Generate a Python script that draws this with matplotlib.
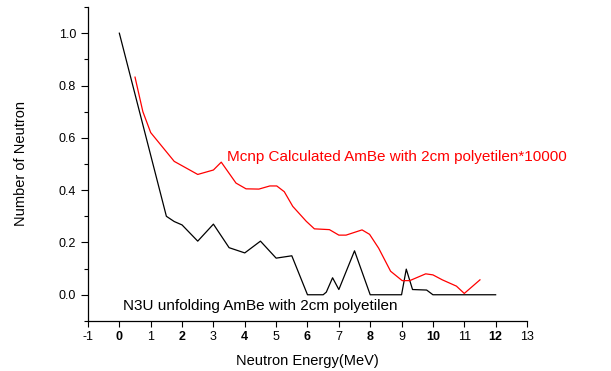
import matplotlib
matplotlib.use('Agg')
import matplotlib.pyplot as plt
from matplotlib.ticker import MultipleLocator

plt.rcParams['font.family'] = ['Liberation Sans', 'DejaVu Sans']

# N3U unfolding spectrum (black)
n3u_x = [0, 1.5, 1.75, 2.0, 2.5, 3.0, 3.5, 4.0, 4.5, 5.0, 5.5, 6.0, 6.5, 6.6, 6.8,
         7.0, 7.5, 8.0, 9.0, 9.15, 9.35, 9.8, 10.0, 12.0]
n3u_y = [1.0, 0.30, 0.28, 0.267, 0.205, 0.27, 0.18, 0.16, 0.205, 0.14, 0.149, 0.0, 0.0, 0.01, 0.065,
         0.02, 0.168, 0.0, 0.0, 0.098, 0.02, 0.018, 0.0, 0.0]

# Mcnp calculated spectrum (red, scaled *10000)
mcnp_x = [0.5, 0.75, 1.0, 1.75, 2.5, 3.0, 3.25, 3.72, 4.04, 4.45, 4.8, 5.02, 5.26, 5.53,
          5.96, 6.22, 6.7, 7.0, 7.23, 7.74, 7.98, 8.27, 8.65, 9.02, 9.26, 9.77, 10.0, 10.3,
          10.75, 11.0, 11.5]
mcnp_y = [0.832, 0.70, 0.62, 0.51, 0.46, 0.477, 0.507, 0.427, 0.405, 0.404, 0.416, 0.416, 0.394, 0.338,
          0.281, 0.252, 0.249, 0.228, 0.228, 0.248, 0.231, 0.178, 0.09, 0.054, 0.054, 0.08, 0.076, 0.057,
          0.033, 0.005, 0.057]

x_ticks = list(range(-1, 14))

fig = plt.figure(figsize=(6.11, 3.71), dpi=100)
ax = fig.add_axes([0.144, 0.135, 0.7185, 0.846])

ax.plot(n3u_x, n3u_y, color='black', lw=0.9)
ax.plot(mcnp_x, mcnp_y, color='#ff0000', lw=0.9)

ax.text(3.44, 0.526, 'Mcnp Calculated AmBe with 2cm polyetilen*10000',
        color='#ff0000', fontsize=11, va='center', ha='left')
ax.text(0.12, -0.042, 'N3U unfolding AmBe with 2cm polyetilen',
        color='black', fontsize=11, va='center', ha='left')

ax.set_xlim(-1, 13)
ax.set_ylim(-0.1, 1.1)
ax.set_xticks(x_ticks)
ax.set_xticklabels([str(t) for t in x_ticks])
for lab, t in zip(ax.get_xticklabels(), x_ticks):
    if t % 2 == 0:
        lab.set_fontweight('bold')
ax.yaxis.set_major_locator(MultipleLocator(0.2))
ax.yaxis.set_minor_locator(MultipleLocator(0.1))
ax.set_yticks([0.0, 0.2, 0.4, 0.6, 0.8, 1.0])
ax.set_yticklabels(['0.0', '0.2', '0.4', '0.6', '0.8', '1.0'])

ax.tick_params(axis='both', direction='out', labelsize=9, width=0.8)
ax.tick_params(axis='x', length=4)
ax.tick_params(axis='y', which='major', length=5)
ax.tick_params(axis='y', which='minor', length=3, width=0.8)

for s in ['top', 'right']:
    ax.spines[s].set_visible(False)
for s in ['left', 'bottom']:
    ax.spines[s].set_linewidth(0.9)

ax.set_xlabel('Neutron Energy(MeV)', fontsize=10.5, labelpad=8)
ax.set_ylabel('Number of Neutron', fontsize=10.5, labelpad=22)

plt.savefig('out.png', dpi=100)
